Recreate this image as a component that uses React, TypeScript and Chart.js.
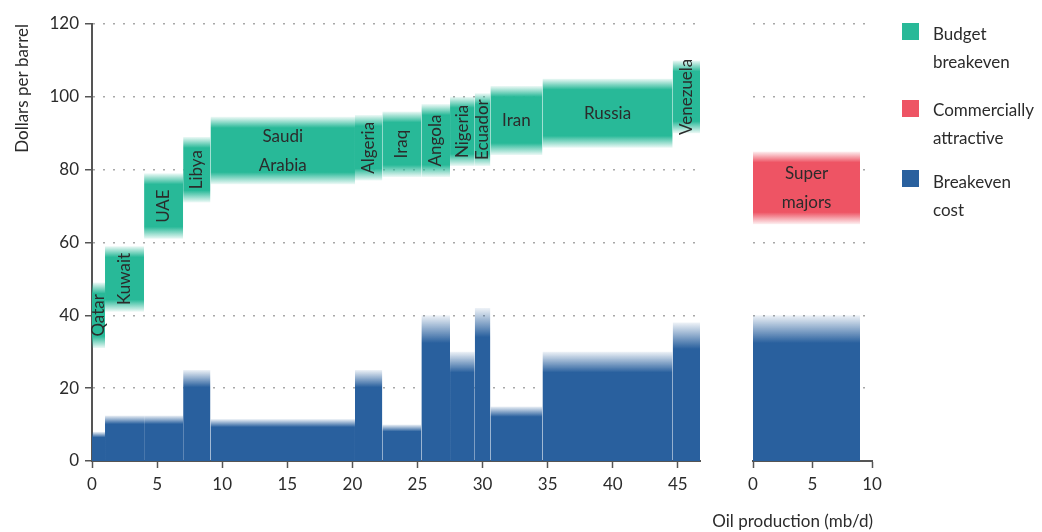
import React, { useEffect, useRef } from "react";
import { Chart, registerables } from "chart.js";

Chart.register(...registerables);

const FONT = "Lato, 'Open Sans', 'DejaVu Sans', sans-serif";
const TEXT = "#2b2b2b";
const AXIS = "#555555";
const GRID = "#a8a8a8";
const GREEN = "40,185,152";
const RED = "238,84,100";
const BLUE = "41,96,158";

// ---- data ----
const countries = ["Qatar", "Kuwait", "UAE", "Libya", "Saudi Arabia", "Algeria", "Iraq", "Angola", "Nigeria", "Ecuador", "Iran", "Russia", "Venezuela"];
const production = [1.0, 3.0, 3.0, 2.1, 11.1, 2.1, 3.0, 2.2, 1.9, 1.2, 4.0, 10.0, 2.1];
const budgetLow = [31, 41, 61, 71, 76, 77, 78, 78, 81, 81, 84, 86, 90];
const budgetHigh = [49, 59, 79, 89, 94.5, 95, 96, 98, 100, 101, 103, 105, 110];
const breakevenCost = [8, 12.5, 12.5, 25, 11.5, 25, 10, 40, 30, 42, 15, 30, 38];

const majorsLabels = ["Super majors"];
const majorsProduction = [9.0];
const majorsLow = [65];
const majorsHigh = [85];
const majorsCost = [40];

const yTicks = [0, 20, 40, 60, 80, 100, 120];
const mainXTicks = [0, 5, 10, 15, 20, 25, 30, 35, 40, 45];
const majorsXTicks = [0, 5, 10];
const yTitle = "Dollars per barrel";
const xTitle = "Oil production (mb/d)";
const legendLabels = [["Budget", "breakeven"], ["Commercially", "attractive"], ["Breakeven", "cost"]];
const legendColors = [GREEN, RED, BLUE];

type Seg = { label: string; start: number; end: number; lo: number; hi: number; cost: number };

function buildSegments(labels: string[], widths: number[], lows: number[], highs: number[], costs: number[]): Seg[] {
  let acc = 0;
  return labels.map((label, i) => {
    const start = acc;
    acc += widths[i];
    return { label, start, end: acc, lo: lows[i], hi: highs[i], cost: costs[i] };
  });
}

function bandFill(rgb: string, fadeTop: (h: number) => number, fadeBottom: (h: number) => number) {
  return (ctx: any) => {
    const chart = ctx.chart;
    const ds = ctx.dataset as any;
    const y = chart.scales && chart.scales.y;
    if (!y || !chart.chartArea || !ds) return `rgb(${rgb})`;
    const yt = y.getPixelForValue(ds.bandTop);
    const yb = y.getPixelForValue(ds.bandBottom);
    const h = Math.max(1, yb - yt);
    const ft = Math.min(0.45, fadeTop(h) / h);
    const fb = Math.min(0.45, fadeBottom(h) / h);
    const g = chart.ctx.createLinearGradient(0, yt, 0, yb);
    g.addColorStop(0, `rgba(${rgb},0.08)`);
    g.addColorStop(ft, `rgba(${rgb},1)`);
    if (fb > 0) {
      g.addColorStop(1 - fb, `rgba(${rgb},1)`);
      g.addColorStop(1, `rgba(${rgb},0.08)`);
    } else {
      g.addColorStop(1, `rgba(${rgb},1)`);
    }
    return g;
  };
}

function band(start: number, end: number, top: number, bottom: number, fill: any) {
  return {
    data: [{ x: start, y: top }, { x: end, y: top }],
    bandTop: top,
    bandBottom: bottom,
    fill: { value: bottom },
    backgroundColor: fill,
    borderColor: "rgba(0,0,0,0)",
    borderWidth: 0,
    pointRadius: 0,
    pointHoverRadius: 0,
    tension: 0,
  } as any;
}

function datasetsFor(segs: Seg[], topRgb: string) {
  const topFill = bandFill(topRgb, () => 11, () => 12);
  const costFill = bandFill(BLUE, (h) => Math.max(5, h * 0.19), () => 0);
  return [
    ...segs.map((s) => band(s.start, s.end, s.hi, s.lo, topFill)),
    ...segs.map((s) => band(s.start, s.end, s.cost, 0, costFill)),
  ];
}

function labelPlugin(segs: Seg[]) {
  return {
    id: "bandLabels",
    afterDatasetsDraw(chart: any) {
      const { ctx } = chart;
      const x = chart.scales.x;
      const y = chart.scales.y;
      ctx.save();
      ctx.font = `17px ${FONT}`;
      ctx.fillStyle = TEXT;
      ctx.textAlign = "center";
      ctx.textBaseline = "middle";
      segs.forEach((s) => {
        const x0 = x.getPixelForValue(s.start);
        const x1 = x.getPixelForValue(s.end);
        const cx = (x0 + x1) / 2;
        const cy = y.getPixelForValue((s.lo + s.hi) / 2);
        const words = s.label.split(" ");
        const widest = Math.max(...words.map((w) => ctx.measureText(w).width));
        if (x1 - x0 >= widest + 15) {
          const lh = 29;
          words.forEach((w, i) => ctx.fillText(w, cx, cy + (i - (words.length - 1) / 2) * lh));
        } else {
          ctx.save();
          ctx.translate(cx, cy);
          ctx.rotate(-Math.PI / 2);
          ctx.fillText(s.label, 0, 0);
          ctx.restore();
        }
      });
      ctx.restore();
    },
  };
}

// x-axis title, right-aligned to the end of the axis and allowed to extend left beyond it
const xTitlePlugin = {
  id: "xTitleEnd",
  afterDraw(chart: any) {
    const { ctx } = chart;
    const x = chart.scales.x;
    ctx.save();
    ctx.font = `17px ${FONT}`;
    ctx.fillStyle = TEXT;
    ctx.textAlign = "right";
    ctx.textBaseline = "middle";
    ctx.fillText(xTitle, x.right + 1, x.bottom - 10);
    ctx.restore();
  },
};

const tickFont = { size: 17, family: FONT };

function yScale(showAxis: boolean) {
  return {
    type: "linear",
    min: 0,
    max: 120,
    afterBuildTicks: (s: any) => {
      s.ticks = yTicks.map((v) => ({ value: v }));
    },
    afterFit: (s: any) => {
      s.width = showAxis ? 92 : 0;
    },
    grid: {
      color: GRID,
      lineWidth: 1.5,
      drawTicks: showAxis,
      tickLength: 7,
      tickColor: AXIS,
      tickWidth: 1.5,
      tickBorderDash: [],
    },
    border: { display: showAxis, color: AXIS, width: 2, dash: [2, 8] },
    ticks: { display: showAxis, padding: 6, font: tickFont, color: TEXT },
    title: {
      display: showAxis,
      text: yTitle,
      align: "end",
      padding: { top: 12, bottom: 0 },
      font: { size: 17, family: FONT },
      color: TEXT,
    },
  } as any;
}

function xScale(max: number, ticks: number[]) {
  return {
    type: "linear",
    min: 0,
    max,
    afterBuildTicks: (s: any) => {
      s.ticks = ticks.map((v) => ({ value: v }));
    },
    afterFit: (s: any) => {
      s.height = 71;
    },
    grid: { drawOnChartArea: false, drawTicks: true, tickLength: 7, tickColor: AXIS, tickWidth: 1.5 },
    border: { display: true, color: AXIS, width: 2 },
    ticks: { padding: 6, font: tickFont, color: TEXT, maxRotation: 0, autoSkip: false },
    title: { display: false },
  } as any;
}

function baseOptions(padding: any, xs: any, ys: any) {
  return {
    responsive: true,
    maintainAspectRatio: false,
    animation: false,
    events: [],
    layout: { padding },
    plugins: { legend: { display: false }, tooltip: { enabled: false } },
    scales: { x: xs, y: ys },
  } as any;
}

export default function App() {
  const mainRef = useRef<HTMLCanvasElement | null>(null);
  const majRef = useRef<HTMLCanvasElement | null>(null);

  useEffect(() => {
    Chart.defaults.font.family = FONT;
    Chart.defaults.color = TEXT;
    const segs = buildSegments(countries, production, budgetLow, budgetHigh, breakevenCost);
    const majSegs = buildSegments(majorsLabels, majorsProduction, majorsLow, majorsHigh, majorsCost);
    const mainMax = segs[segs.length - 1].end;

    const main = new Chart(mainRef.current as HTMLCanvasElement, {
      type: "line",
      data: { datasets: datasetsFor(segs, GREEN) },
      options: baseOptions({ left: 0, right: 10, top: 24, bottom: 0 }, xScale(mainMax, mainXTicks), yScale(true)),
      plugins: [labelPlugin(segs)],
    } as any);

    const maj = new Chart(majRef.current as HTMLCanvasElement, {
      type: "line",
      data: { datasets: datasetsFor(majSegs, RED) },
      options: baseOptions({ left: 73, right: 28, top: 24, bottom: 0 }, xScale(10, majorsXTicks), yScale(false)),
      plugins: [labelPlugin(majSegs), xTitlePlugin],
    } as any);

    return () => {
      main.destroy();
      maj.destroy();
    };
  }, []);

  const squareTops = [23, 100, 170];
  const textTops = [20, 96, 168];

  return (
    <div style={{ position: "absolute", left: 0, top: 0, width: 1042, height: 532, background: "#fff", fontFamily: FONT, color: TEXT }}>
      <div style={{ position: "absolute", left: 0, top: 0, width: 710, height: 532 }}>
        <canvas ref={mainRef} />
      </div>
      <div style={{ position: "absolute", left: 680, top: 0, width: 220, height: 532 }}>
        <canvas ref={majRef} />
      </div>
      {legendLabels.map((lines, i) => (
        <React.Fragment key={i}>
          <div
            style={{
              position: "absolute",
              left: 902,
              top: squareTops[i],
              width: 17,
              height: 17,
              background: `rgb(${legendColors[i]})`,
            }}
          />
          <div style={{ position: "absolute", left: 933, top: textTops[i], fontSize: 17, lineHeight: "28px", whiteSpace: "nowrap" }}>
            {lines.map((l, j) => (
              <div key={j}>{l}</div>
            ))}
          </div>
        </React.Fragment>
      ))}
    </div>
  );
}
